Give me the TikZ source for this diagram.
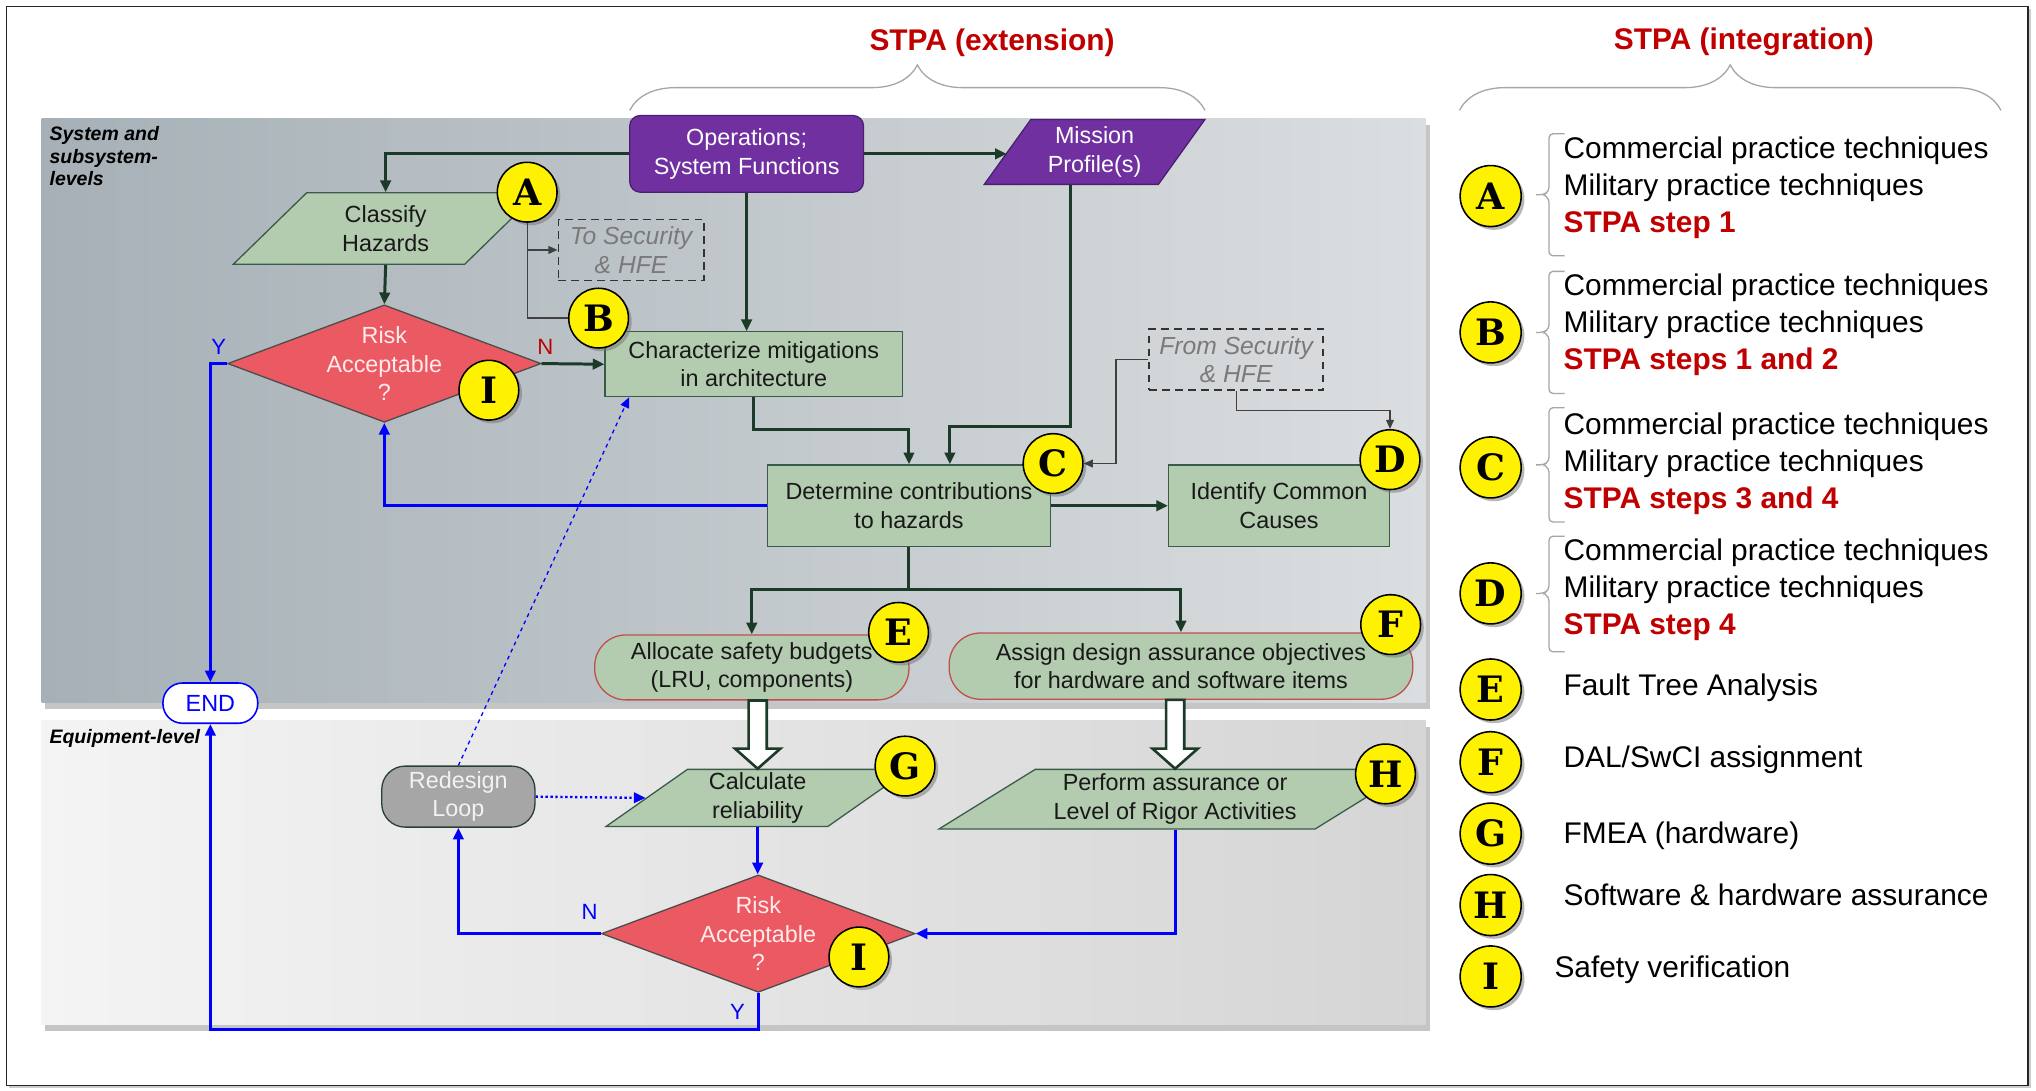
\documentclass[tikz,border=0pt]{standalone}
\usepackage{fontspec}
\setmainfont{Liberation Sans}
\newfontfamily\badgefont{DejaVu Serif}
\usetikzlibrary{shapes.geometric,shadows,arrows.meta,calc,decorations.pathreplacing}

\definecolor{ppl}{HTML}{7030A0}
\definecolor{pplline}{HTML}{4A1F70}
\definecolor{sage}{HTML}{B3CBAF}
\definecolor{sageline}{HTML}{3B5B4A}
\definecolor{riskred}{HTML}{EB5A62}
\definecolor{darkflow}{HTML}{1B3A28}
\definecolor{stpared}{HTML}{C00000}
\definecolor{upA}{HTML}{A6B0B6}
\definecolor{upB}{HTML}{DBDEE0}
\definecolor{lowA}{HTML}{F4F4F4}
\definecolor{lowB}{HTML}{D5D5D5}
\definecolor{hfe}{HTML}{7A7A7A}
\definecolor{budget}{HTML}{C0504D}

\newcommand{\hollowarrow}[2]{\draw[hollow] ($(#1)+(-7,0)$) -- ($(#2)+(-7,-15.5)$) -- ($(#2)+(-17.5,-15.5)$) -- (#2) -- ($(#2)+(17.5,-15.5)$) -- ($(#2)+(7,-15.5)$) -- ($(#1)+(7,0)$) -- cycle;}

\begin{document}
\begin{tikzpicture}[x=1pt,y=-1pt,
  flowtext/.style={font=\fontsize{18}{22}\selectfont, align=center, text=black!90, inner sep=2pt},
  greenbox/.style={flowtext, rectangle, draw=sageline, fill=sage, line width=1pt},
  para/.style={flowtext, trapezium, trapezium stretches=true, draw=sageline, fill=sage, line width=1pt},
  pill/.style={flowtext, rectangle, rounded corners=24pt, draw=budget, fill=sage, line width=1pt},
  riskbox/.style={flowtext, diamond, aspect=2.67, inner sep=0pt, draw=black!70, fill=riskred, text=white!92!red, line width=1pt},
  hfebox/.style={flowtext, dash pattern=on 6pt off 4pt, draw=black!80, line width=1.3pt, font=\fontsize{19}{22}\selectfont\itshape, text=hfe},
  badge/.style={circle, draw=black, line width=1.2pt, fill=yellow, minimum size=46pt, inner sep=0pt, font=\badgefont\bfseries\fontsize{28}{28}\selectfont, drop shadow={shadow xshift=2.5pt, shadow yshift=-2.5pt, fill=black!55}},
  main/.style={darkflow, line width=2.3pt, -{Triangle[length=9pt,width=8pt]}},
  back/.style={blue, line width=2.5pt, -{Triangle[length=9pt,width=8pt]}},
  thinline/.style={black!75, line width=1pt},
  hollow/.style={darkflow, line width=2pt, fill=white},
  legend/.style={anchor=west, align=left, inner sep=0pt, font=\fontsize{23}{28.5}\selectfont},
  stpa/.style={text=stpared, font=\fontsize{23}{28}\selectfont\bfseries},
  curly/.style={decorate, black!35, line width=1pt},
  bracket/.style={black!35, line width=1pt, rounded corners=3pt},
  yn/.style={font=\fontsize{17}{17}\selectfont, inner sep=0pt}
]
\useasboundingbox (0,0) rectangle (1568,840);
\draw[black!85, line width=1.3pt, fill=white, drop shadow={shadow xshift=2pt, shadow yshift=-2pt, fill=black!40}] (5,5) rectangle (1562,836);

\path[drop shadow={shadow xshift=3pt, shadow yshift=-5pt, fill=black!45}, left color=upA, right color=upB] (32,91) rectangle (1098,541);
\path[drop shadow={shadow xshift=3pt, shadow yshift=-5pt, fill=black!45}, left color=lowA, right color=lowB] (32,555) rectangle (1098,789);

\node[stpa] (exttitle) at (764,33) {STPA (extension)};
\node[stpa] (inttitle) at (1343,32) {STPA (integration)};
\draw[curly, decoration={brace, amplitude=35pt}] (485,85) -- (928,85);
\draw[curly, decoration={brace, amplitude=35pt}] (1124,85) -- (1541,85);

\node[anchor=north west, align=left, inner sep=0pt, font=\fontsize{15}{17.5}\selectfont\bfseries\itshape] (syslevel) at (38,97) {System and\\subsystem-\\levels};
\node[anchor=west, inner sep=0pt, font=\fontsize{15}{17.5}\selectfont\bfseries\itshape] (eqlevel) at (38,569) {Equipment-level};

\node[flowtext, rounded corners=8pt, draw=pplline, fill=ppl, text=white, line width=1pt, minimum width=180pt, minimum height=59pt] (ops) at (575,118.5) {Operations;\\System Functions};
\node[para, trapezium left angle=57, trapezium right angle=123, draw=pplline, fill=ppl, text=white, minimum width=170pt, minimum height=50pt] (mission) at (843,117) {Mission\\Profile(s)};
\node[para, trapezium left angle=50, trapezium right angle=130, minimum width=235pt, minimum height=55pt] (classify) at (297,176) {Classify\\Hazards};
\node[hfebox, minimum width=112pt, minimum height=47pt] (tosec) at (486,192.5) {To Security\\\& HFE};
\node[riskbox, minimum width=240pt, minimum height=88pt] (risk1) at (296,280) {Risk\\Acceptable\\?};
\node[greenbox, minimum width=229pt, minimum height=50pt] (charz) at (580.5,280.5) {Characterize mitigations\\in architecture};
\node[hfebox, minimum width=134pt, minimum height=47pt] (fromsec) at (952,277) {From Security\\\& HFE};
\node[greenbox, minimum width=218pt, minimum height=63pt] (determine) at (700,389.5) {Determine contributions\\to hazards};
\node[greenbox, minimum width=170pt, minimum height=63pt] (identify) at (985,389.5) {Identify Common\\Causes};
\node[pill, minimum width=242pt, minimum height=50pt] (allocate) at (579,514) {Allocate safety budgets\\(LRU, components)};
\node[pill, minimum width=357pt, minimum height=51pt] (assign) at (909.5,513) {Assign design assurance objectives\\for hardware and software items};
\node[para, trapezium left angle=43, trapezium right angle=137, minimum width=234pt, minimum height=44pt] (calc) at (583.5,614.5) {Calculate\\reliability};
\node[para, trapezium left angle=33, trapezium right angle=147, minimum width=364pt, minimum height=46pt] (perform) at (905,615.5) {Perform assurance or\\Level of Rigor Activities};
\node[flowtext, rounded corners=18pt, draw=sageline!70!black, fill=black!35, text=white!95!black, line width=1pt, minimum width=118pt, minimum height=47pt] (redesign) at (353,613.5) {Redesign\\Loop};
\node[riskbox, minimum width=240pt, minimum height=90pt] (risk2) at (584,719) {Risk\\Acceptable\\?};
\node[flowtext, rounded corners=15pt, draw=blue, fill=white, text=blue, line width=1.2pt, minimum width=73pt, minimum height=31pt] (endnode) at (162,541.5) {END};

\node[badge] (bA) at (406,148) {A};
\node[badge] (bB) at (461,245) {B};
\node[badge] (bC) at (811,357) {C};
\node[badge] (bD) at (1070.5,354) {D};
\node[badge] (bE) at (692,487) {E};
\node[badge] (bF) at (1071,481) {F};
\node[badge] (bG) at (697,590) {G};
\node[badge] (bH) at (1067,596) {H};
\node[badge] (bI1) at (376.5,300.5) {I};
\node[badge] (bI2) at (661.5,737) {I};

\draw[main] (ops.west) -| (classify.north);
\draw[main] (ops.east) -- (ops.east -| mission.left side);
\draw[main] (ops.south) -- (ops.south |- charz.north);
\coordinate (mdrop) at ($(determine.north)+(31.5,0)$);
\draw[main] (mission.bottom side) |- ($(mdrop)+(0,-29)$) -- (mdrop);
\draw[main] (charz.south) |- ($(determine.north)+(0,-27)$) -- (determine.north);
\draw[main] (classify.south) -- (risk1.north);
\draw[main] (risk1.east) -- (charz.west);
\draw[back] (risk1.west) -| (endnode.north);
\draw[back] (determine.west) -| (risk1.south);
\draw[main] (determine.east) -- (identify.west);
\coordinate (split) at ($(determine.south)+(0,32.5)$);
\draw[darkflow, line width=2.3pt] (determine.south) -- (split);
\draw[main] (split) -| (allocate.north);
\draw[main] (split) -| (assign.north);
\draw[thinline, -{Triangle[length=7pt,width=6pt]}] (fromsec.west) -- ++(-25,0) |- (bC.east);
\draw[thinline, -{Triangle[length=7pt,width=6pt]}] (fromsec.south) |- ($(bD.north)+(0,-14)$) -- (bD.north);
\draw[thinline] (bA.south) |- (bB.west);
\draw[thinline, -{Triangle[length=7pt,width=6pt]}] (bA.south |- tosec.west) -- (tosec.west);
\hollowarrow{calc.north |- allocate.south}{calc.north}
\hollowarrow{perform.north |- assign.south}{perform.north}
\draw[blue, line width=1.8pt, dotted, -{Triangle[length=9pt,width=8pt]}] (redesign.east) -- (calc.left side);
\draw[blue, line width=1pt, dashed, -{Triangle[length=8pt,width=7pt]}] (redesign.north) -- ($(charz.south west)+(19,0)$);
\draw[back] (calc.south) -- (calc.south |- risk2.north);
\draw[back] (risk2.west) -| (redesign.south);
\draw[back] (risk2.south) -- ++(0,28) -| (endnode.south);
\draw[back] (perform.south) |- (risk2.east);

\node[yn, text=stpared] (n1) at (420,267) {N};
\node[yn, text=blue] (y1) at (168.5,267) {Y};
\node[yn, text=blue] (n2) at (454,702) {N};
\node[yn, text=blue] (y2) at (568,779) {Y};

\foreach \l/\y in {A/151,B/256,C/360,D/457,E/531,F/587,G/642,H/697,I/752}
  \node[badge, minimum size=47pt] (key\l) at (1148,\y) {\l};
\foreach \a/\m/\b in {103/150/197,209/256/303,314/358/402,413/457/502}
  \draw[bracket] (1205,\a) -- (1193,\a) -- (1193,\m-3) -- (1189,\m) -- (1183,\m) (1189,\m) -- (1193,\m+3) -- (1193,\b) -- (1205,\b);
\foreach \l/\y/\s in {A/144.5/step 1,B/250.5/steps 1 and 2,C/357.5/steps 3 and 4,D/454.5/step 4}
  \node[legend] (txt\l) at (1204,\y) {Commercial practice techniques\\Military practice techniques\\\textcolor{stpared}{\bfseries STPA \s}};
\node[legend] (txtE) at (1204,530) {Fault Tree Analysis};
\node[legend] (txtF) at (1204,585) {DAL/SwCI assignment};
\node[legend] (txtG) at (1204,644) {FMEA (hardware)};
\node[legend] (txtH) at (1204,689) {Software \& hardware assurance};
\node[legend] (txtI) at (1197,747) {Safety verification};
\end{tikzpicture}
\end{document}
